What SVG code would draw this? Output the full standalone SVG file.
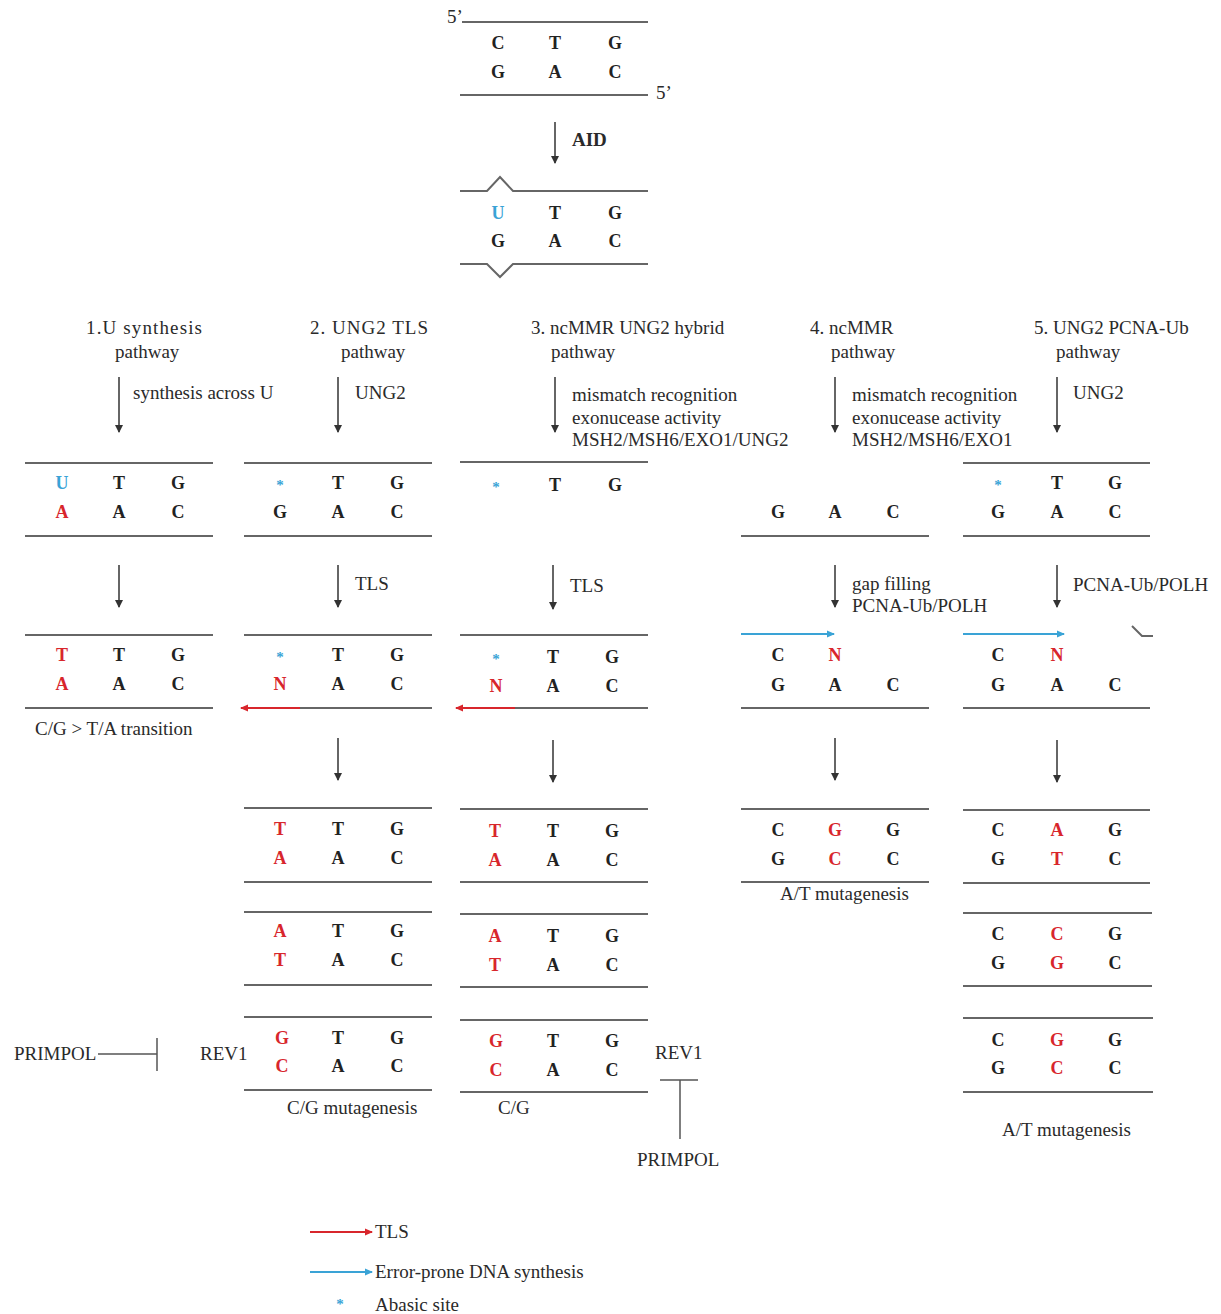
<svg xmlns="http://www.w3.org/2000/svg" width="1221" height="1314" viewBox="0 0 1221 1314">
<style>
.b{font-family:"Liberation Serif","Times New Roman",serif;font-weight:bold;font-size:18px;fill:#222;text-anchor:middle}
.r{fill:#d8262c}
.u{fill:#3aa3d6}
.s{font-family:"Liberation Serif","Times New Roman",serif;font-weight:bold;font-size:15px;fill:#3aa3d6;text-anchor:middle}
.t{font-family:"Liberation Serif","Times New Roman",serif;font-size:19px;fill:#2a2a2a}
.ln{stroke:#666;stroke-width:2;fill:none}
.ar{stroke:#333;stroke-width:1.5;fill:none;marker-end:url(#ah)}
</style>
<defs>
<marker id="ah" markerWidth="8" markerHeight="10" refX="7" refY="5" orient="auto" markerUnits="userSpaceOnUse"><path d="M0,1 L8,5 L0,9 Z" fill="#333"/></marker>
<marker id="ahr" markerWidth="8" markerHeight="8" refX="7" refY="4" orient="auto" markerUnits="userSpaceOnUse"><path d="M0,0.5 L8,4 L0,7.5 Z" fill="#d8262c"/></marker>
<marker id="ahb" markerWidth="8" markerHeight="8" refX="7" refY="4" orient="auto" markerUnits="userSpaceOnUse"><path d="M0,0.5 L8,4 L0,7.5 Z" fill="#3aa3d6"/></marker>
</defs>
<rect width="1221" height="1314" fill="#fff"/>

<g id="dna-top">
<line class="ln" x1="462" y1="22" x2="648" y2="22"/>
<line class="ln" x1="460" y1="95" x2="648" y2="95"/>
<text class="t" x="447" y="23" font-size="15">5’</text>
<text class="t" x="656" y="99" font-size="15">5’</text>
<text class="b" x="498" y="49">C</text><text class="b" x="555" y="49">T</text><text class="b" x="615" y="49">G</text>
<text class="b" x="498" y="78">G</text><text class="b" x="555" y="78">A</text><text class="b" x="615" y="78">C</text>
</g>

<g id="dna-aid">
<polyline class="ln" points="460,191 487,191 500,177 513,191 648,191"/>
<polyline class="ln" points="460,264 487,264 500,277 513,264 648,264"/>
<text class="b u" x="498" y="219">U</text><text class="b" x="555" y="219">T</text><text class="b" x="615" y="219">G</text>
<text class="b" x="498" y="247">G</text><text class="b" x="555" y="247">A</text><text class="b" x="615" y="247">C</text>
</g>

<g id="headers">
<text class="t" x="86" y="334" textLength="116">1.U synthesis</text>
<text class="t" x="115" y="358">pathway</text>
<text class="t" x="310" y="334" textLength="118">2. UNG2 TLS</text>
<text class="t" x="341" y="358">pathway</text>
<text class="t" x="531" y="334">3. ncMMR UNG2 hybrid</text>
<text class="t" x="551" y="358">pathway</text>
<text class="t" x="810" y="334">4. ncMMR</text>
<text class="t" x="831" y="358">pathway</text>
<text class="t" x="1034" y="334">5. UNG2 PCNA-Ub</text>
<text class="t" x="1056" y="358">pathway</text>
</g>

<g id="step-labels">
<text class="t" x="572" y="146" font-weight="bold" font-size="18">AID</text>
<text class="t" x="133" y="399">synthesis across U</text>
<text class="t" x="355" y="399">UNG2</text>
<text class="t" x="572" y="401">mismatch recognition</text>
<text class="t" x="572" y="424">exonucease activity</text>
<text class="t" x="572" y="446">MSH2/MSH6/EXO1/UNG2</text>
<text class="t" x="852" y="401">mismatch recognition</text>
<text class="t" x="852" y="424">exonucease activity</text>
<text class="t" x="852" y="446">MSH2/MSH6/EXO1</text>
<text class="t" x="1073" y="399">UNG2</text>
<text class="t" x="355" y="590">TLS</text>
<text class="t" x="570" y="592">TLS</text>
<text class="t" x="852" y="590">gap filling</text>
<text class="t" x="852" y="612">PCNA-Ub/POLH</text>
<text class="t" x="1073" y="591">PCNA-Ub/POLH</text>
</g>

<!-- Row A -->
<g id="c1-a">
<line class="ln" x1="25" y1="463" x2="213" y2="463"/><line class="ln" x1="25" y1="536" x2="213" y2="536"/>
<text class="b u" x="62" y="489">U</text><text class="b" x="119" y="489">T</text><text class="b" x="178" y="489">G</text>
<text class="b r" x="62" y="518">A</text><text class="b" x="119" y="518">A</text><text class="b" x="178" y="518">C</text>
</g>
<g id="c2-a">
<line class="ln" x1="244" y1="463" x2="432" y2="463"/><line class="ln" x1="244" y1="536" x2="432" y2="536"/>
<text class="s" x="280" y="490">*</text><text class="b" x="338" y="489">T</text><text class="b" x="397" y="489">G</text>
<text class="b" x="280" y="518">G</text><text class="b" x="338" y="518">A</text><text class="b" x="397" y="518">C</text>
</g>
<g id="c3-a">
<line class="ln" x1="460" y1="462" x2="648" y2="462"/>
<text class="s" x="496" y="492">*</text><text class="b" x="555" y="491">T</text><text class="b" x="615" y="491">G</text>
</g>
<g id="c4-a">
<line class="ln" x1="741" y1="536" x2="929" y2="536"/>
<text class="b" x="778" y="518">G</text><text class="b" x="835" y="518">A</text><text class="b" x="893" y="518">C</text>
</g>
<g id="c5-a">
<line class="ln" x1="963" y1="463" x2="1150" y2="463"/><line class="ln" x1="963" y1="536" x2="1150" y2="536"/>
<text class="s" x="998" y="490">*</text><text class="b" x="1057" y="489">T</text><text class="b" x="1115" y="489">G</text>
<text class="b" x="998" y="518">G</text><text class="b" x="1057" y="518">A</text><text class="b" x="1115" y="518">C</text>
</g>

<!-- Row C -->
<g id="c1-c">
<line class="ln" x1="25" y1="635" x2="213" y2="635"/><line class="ln" x1="25" y1="708" x2="213" y2="708"/>
<text class="b r" x="62" y="661">T</text><text class="b" x="119" y="661">T</text><text class="b" x="178" y="661">G</text>
<text class="b r" x="62" y="690">A</text><text class="b" x="119" y="690">A</text><text class="b" x="178" y="690">C</text>
<text class="t" x="35" y="735" font-size="18">C/G &gt; T/A transition</text>
</g>
<g id="c2-c">
<line class="ln" x1="244" y1="635" x2="432" y2="635"/><line class="ln" x1="300" y1="708" x2="432" y2="708"/>
<text class="s" x="280" y="662">*</text><text class="b" x="338" y="661">T</text><text class="b" x="397" y="661">G</text>
<text class="b r" x="280" y="690">N</text><text class="b" x="338" y="690">A</text><text class="b" x="397" y="690">C</text>
</g>
<g id="c3-c">
<line class="ln" x1="460" y1="635" x2="648" y2="635"/><line class="ln" x1="515" y1="708" x2="648" y2="708"/>
<text class="s" x="496" y="664">*</text><text class="b" x="553" y="663">T</text><text class="b" x="612" y="663">G</text>
<text class="b r" x="496" y="692">N</text><text class="b" x="553" y="692">A</text><text class="b" x="612" y="692">C</text>
</g>
<g id="c4-c">
<line class="ln" x1="741" y1="708" x2="929" y2="708"/>
<text class="b" x="778" y="661">C</text><text class="b r" x="835" y="661">N</text>
<text class="b" x="778" y="691">G</text><text class="b" x="835" y="691">A</text><text class="b" x="893" y="691">C</text>
</g>
<g id="c5-c">
<line class="ln" x1="963" y1="708" x2="1150" y2="708"/>
<polyline class="ln" points="1132,626 1142,636 1153,636" stroke-width="1.5"/>
<text class="b" x="998" y="661">C</text><text class="b r" x="1057" y="661">N</text>
<text class="b" x="998" y="691">G</text><text class="b" x="1057" y="691">A</text><text class="b" x="1115" y="691">C</text>
</g>

<!-- Row E -->
<g id="c2-e">
<line class="ln" x1="244" y1="808" x2="432" y2="808"/><line class="ln" x1="244" y1="882" x2="432" y2="882"/>
<text class="b r" x="280" y="835">T</text><text class="b" x="338" y="835">T</text><text class="b" x="397" y="835">G</text>
<text class="b r" x="280" y="864">A</text><text class="b" x="338" y="864">A</text><text class="b" x="397" y="864">C</text>
</g>
<g id="c3-e">
<line class="ln" x1="460" y1="809" x2="648" y2="809"/><line class="ln" x1="460" y1="882" x2="648" y2="882"/>
<text class="b r" x="495" y="837">T</text><text class="b" x="553" y="837">T</text><text class="b" x="612" y="837">G</text>
<text class="b r" x="495" y="866">A</text><text class="b" x="553" y="866">A</text><text class="b" x="612" y="866">C</text>
</g>
<g id="c4-e">
<line class="ln" x1="741" y1="809" x2="929" y2="809"/><line class="ln" x1="741" y1="882" x2="929" y2="882"/>
<text class="b" x="778" y="836">C</text><text class="b r" x="835" y="836">G</text><text class="b" x="893" y="836">G</text>
<text class="b" x="778" y="865">G</text><text class="b r" x="835" y="865">C</text><text class="b" x="893" y="865">C</text>
<text class="t" x="780" y="900" font-size="18">A/T mutagenesis</text>
</g>
<g id="c5-e">
<line class="ln" x1="963" y1="810" x2="1150" y2="810"/><line class="ln" x1="963" y1="883" x2="1150" y2="883"/>
<text class="b" x="998" y="836">C</text><text class="b r" x="1057" y="836">A</text><text class="b" x="1115" y="836">G</text>
<text class="b" x="998" y="865">G</text><text class="b r" x="1057" y="865">T</text><text class="b" x="1115" y="865">C</text>
</g>

<!-- Row F -->
<g id="c2-f">
<line class="ln" x1="244" y1="912" x2="432" y2="912"/><line class="ln" x1="244" y1="985" x2="432" y2="985"/>
<text class="b r" x="280" y="937">A</text><text class="b" x="338" y="937">T</text><text class="b" x="397" y="937">G</text>
<text class="b r" x="280" y="966">T</text><text class="b" x="338" y="966">A</text><text class="b" x="397" y="966">C</text>
</g>
<g id="c3-f">
<line class="ln" x1="460" y1="914" x2="648" y2="914"/><line class="ln" x1="460" y1="987" x2="648" y2="987"/>
<text class="b r" x="495" y="942">A</text><text class="b" x="553" y="942">T</text><text class="b" x="612" y="942">G</text>
<text class="b r" x="495" y="971">T</text><text class="b" x="553" y="971">A</text><text class="b" x="612" y="971">C</text>
</g>
<g id="c5-f">
<line class="ln" x1="963" y1="913" x2="1152" y2="913"/><line class="ln" x1="963" y1="986" x2="1152" y2="986"/>
<text class="b" x="998" y="940">C</text><text class="b r" x="1057" y="940">C</text><text class="b" x="1115" y="940">G</text>
<text class="b" x="998" y="969">G</text><text class="b r" x="1057" y="969">G</text><text class="b" x="1115" y="969">C</text>
</g>

<!-- Row G -->
<g id="c2-g">
<line class="ln" x1="244" y1="1017" x2="432" y2="1017"/><line class="ln" x1="244" y1="1090" x2="432" y2="1090"/>
<text class="b r" x="282" y="1044">G</text><text class="b" x="338" y="1044">T</text><text class="b" x="397" y="1044">G</text>
<text class="b r" x="282" y="1072">C</text><text class="b" x="338" y="1072">A</text><text class="b" x="397" y="1072">C</text>
<text class="t" x="287" y="1114" font-size="18">C/G mutagenesis</text>
</g>
<g id="c3-g">
<line class="ln" x1="460" y1="1020" x2="648" y2="1020"/><line class="ln" x1="460" y1="1092" x2="648" y2="1092"/>
<text class="b r" x="496" y="1047">G</text><text class="b" x="553" y="1047">T</text><text class="b" x="612" y="1047">G</text>
<text class="b r" x="496" y="1076">C</text><text class="b" x="553" y="1076">A</text><text class="b" x="612" y="1076">C</text>
<text class="t" x="498" y="1114" font-size="18">C/G</text>
</g>
<g id="c5-g">
<line class="ln" x1="963" y1="1018" x2="1153" y2="1018"/><line class="ln" x1="963" y1="1092" x2="1153" y2="1092"/>
<text class="b" x="998" y="1046">C</text><text class="b r" x="1057" y="1046">G</text><text class="b" x="1115" y="1046">G</text>
<text class="b" x="998" y="1074">G</text><text class="b r" x="1057" y="1074">C</text><text class="b" x="1115" y="1074">C</text>
<text class="t" x="1002" y="1136" font-size="18">A/T mutagenesis</text>
</g>

<g id="primpol-left">
<text class="t" x="14" y="1060" font-size="18">PRIMPOL</text>
<text class="t" x="200" y="1060" font-size="18">REV1</text>
</g>
<g id="primpol-right">
<text class="t" x="655" y="1059" font-size="18">REV1</text>
<text class="t" x="637" y="1166" font-size="18">PRIMPOL</text>
</g>

<g id="legend">
<text class="t" x="375" y="1238" font-size="18">TLS</text>
<text class="t" x="375" y="1278" font-size="18">Error-prone DNA synthesis</text>
<text class="s" x="340" y="1309">*</text>
<text class="t" x="375" y="1311" font-size="18">Abasic site</text>
</g>

<g id="connectors">
<line class="ar" x1="555" y1="122" x2="555" y2="163"/>
<line class="ar" x1="119" y1="377" x2="119" y2="432"/>
<line class="ar" x1="338" y1="377" x2="338" y2="432"/>
<line class="ar" x1="555" y1="377" x2="555" y2="432"/>
<line class="ar" x1="835" y1="377" x2="835" y2="432"/>
<line class="ar" x1="1057" y1="377" x2="1057" y2="432"/>
<line class="ar" x1="119" y1="565" x2="119" y2="607"/>
<line class="ar" x1="338" y1="565" x2="338" y2="607"/>
<line class="ar" x1="553" y1="565" x2="553" y2="609"/>
<line class="ar" x1="835" y1="565" x2="835" y2="607"/>
<line class="ar" x1="1057" y1="565" x2="1057" y2="607"/>
<line class="ar" x1="338" y1="738" x2="338" y2="780"/>
<line class="ar" x1="553" y1="740" x2="553" y2="782"/>
<line class="ar" x1="835" y1="738" x2="835" y2="780"/>
<line class="ar" x1="1057" y1="740" x2="1057" y2="782"/>
<line x1="300" y1="708" x2="241" y2="708" stroke="#d8262c" stroke-width="2" marker-end="url(#ahr)"/>
<line x1="515" y1="708" x2="456" y2="708" stroke="#d8262c" stroke-width="2" marker-end="url(#ahr)"/>
<line x1="741" y1="634" x2="834" y2="634" stroke="#3aa3d6" stroke-width="2" marker-end="url(#ahb)"/>
<line x1="963" y1="634" x2="1064" y2="634" stroke="#3aa3d6" stroke-width="2" marker-end="url(#ahb)"/>
<line x1="98" y1="1054" x2="157" y2="1054" stroke="#555" stroke-width="1.5"/>
<line x1="157" y1="1038" x2="157" y2="1071" stroke="#555" stroke-width="1.5"/>
<line x1="680" y1="1080" x2="680" y2="1139" stroke="#555" stroke-width="1.5"/>
<line x1="660" y1="1080" x2="698" y2="1080" stroke="#555" stroke-width="1.5"/>
<line x1="310" y1="1232" x2="372" y2="1232" stroke="#d8262c" stroke-width="2" marker-end="url(#ahr)"/>
<line x1="310" y1="1272" x2="372" y2="1272" stroke="#3aa3d6" stroke-width="2" marker-end="url(#ahb)"/>
</g>
</svg>
